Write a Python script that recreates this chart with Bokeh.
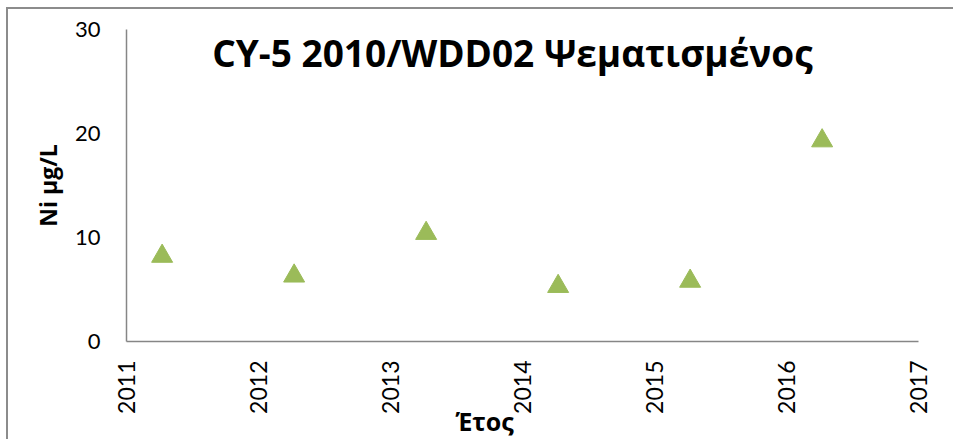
import math
from bokeh.plotting import figure
from bokeh.models import Range1d, FixedTicker, Label, Title
from bokeh.embed import file_html
from bokeh.resources import INLINE

# Data
years = [2011.27, 2012.27, 2013.27, 2014.27, 2015.27, 2016.27]
ni_values = [8.2, 6.3, 10.4, 5.3, 5.8, 19.3]
x_ticks = [2011, 2012, 2013, 2014, 2015, 2016, 2017]
y_ticks = [0, 10, 20, 30]
title_text = "CY-5 2010/WDD02  Ψεματισμένος"
x_label = "Έτος"
y_label = "Ni μg/L"

p = figure(width=947, height=432, output_backend="svg", toolbar_location=None,
           x_range=Range1d(2011, 2017), y_range=Range1d(0, 30),
           min_border_left=118, min_border_right=37, min_border_top=20, min_border_bottom=100)
p.styles = {"border-left": "2px solid #8c8c8c", "border-top": "2px solid #8c8c8c",
            "margin-left": "6px", "margin-top": "7px"}
p.outline_line_color = None
p.xgrid.visible = False
p.ygrid.visible = False

p.scatter(years, ni_values, marker="triangle", size=21, fill_color="#9BBB59", line_color="#9BBB59")

for ax in (p.xaxis[0], p.yaxis[0]):
    ax.axis_line_color = "#868686"
    ax.axis_line_width = 1.5
    ax.major_tick_out = 0
    ax.major_tick_in = 0
    ax.minor_tick_out = 0
    ax.minor_tick_in = 0
    ax.major_label_text_font = "Lato"
    ax.major_label_text_font_size = "22px"
    ax.major_label_text_color = "#000000"

p.xaxis.major_label_text_font_size = "23px"
p.xaxis.ticker = FixedTicker(ticks=x_ticks)
p.yaxis.ticker = FixedTicker(ticks=y_ticks)
p.xaxis.major_label_orientation = math.pi / 2
p.xaxis.major_label_standoff = 19
p.yaxis.major_label_standoff = 26

p.yaxis.axis_label = y_label
p.yaxis.axis_label_text_font = "Open Sans"
p.yaxis.axis_label_text_font_style = "bold"
p.yaxis.axis_label_text_font_size = "23px"
p.yaxis.axis_label_text_color = "#000000"
p.yaxis.axis_label_standoff = 8

p.add_layout(Label(x=2013.96, y=27.8, text=title_text, text_font="Open Sans", text_font_style="bold",
                   text_font_size="37px", text_align="center", text_baseline="middle", text_color="#000000"))

xt = Title(text=x_label, align="left", offset=329, standoff=-30, text_font="Open Sans",
           text_font_style="bold", text_font_size="25px", text_color="#000000")
p.add_layout(xt, "below")

open("out.html", "w").write(file_html(p, INLINE))
